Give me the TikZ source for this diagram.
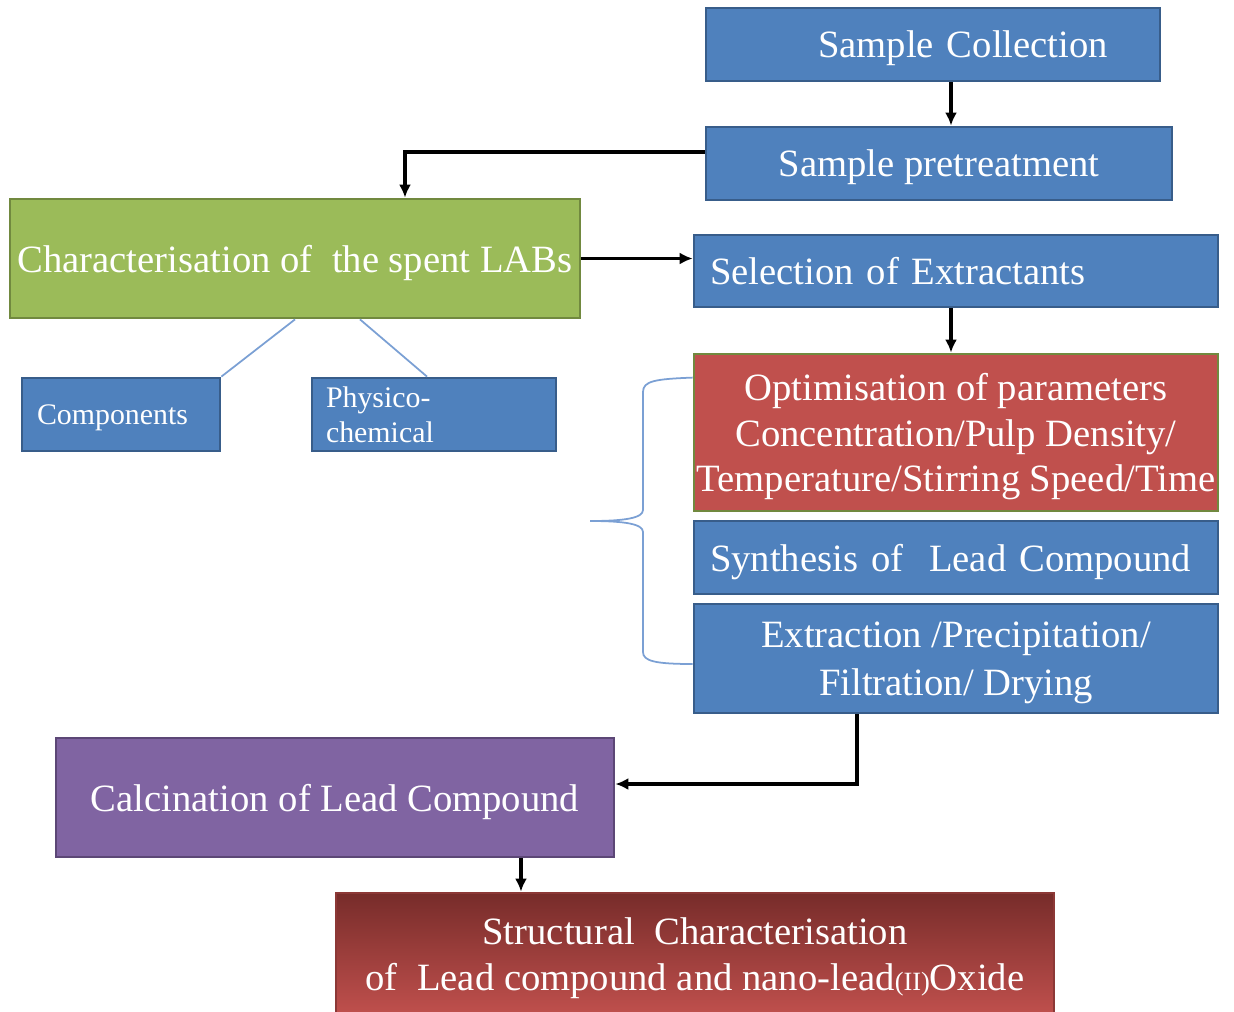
\documentclass[tikz,border=0pt]{standalone}
\usepackage{fontspec}
\setmainfont{Liberation Serif}
\usepackage{tikz}
\usetikzlibrary{arrows.meta,positioning}
\definecolor{bluefill}{HTML}{4F81BD}
\definecolor{blueline}{HTML}{385D8A}
\definecolor{greenfill}{HTML}{9BBB59}
\definecolor{greenline}{HTML}{71893F}
\definecolor{redfill}{HTML}{C0504D}
\definecolor{darkred}{HTML}{772C2A}
\definecolor{redline}{HTML}{8C3836}
\definecolor{purplefill}{HTML}{8064A2}
\definecolor{purpleline}{HTML}{5C4776}
\definecolor{linkblue}{HTML}{7BA0D4}

\begin{document}
\begin{tikzpicture}[x=0.02cm, y=-0.02cm]
    \tikzset{
      stepnode/.style={rectangle,draw=blueline,fill=bluefill,line width=1.6pt,text=white,inner ysep=0pt,inner xsep=0pt,text depth=0pt,font=\fontsize{22}{26}\selectfont},
      smallnode/.style={stepnode,font=\fontsize{17}{20}\selectfont},
      greennode/.style={stepnode,draw=greenline,fill=greenfill},
      rednode/.style={stepnode,draw=greenline,fill=redfill},
      purplenode/.style={stepnode,draw=purpleline,fill=purplefill},
      resultnode/.style={stepnode,draw=redline,top color=darkred,bottom color=redfill},
      arrow/.style={->,>={Latex[length=2.6mm,width=2.4mm]},line width=1.9pt},
      link/.style={draw=linkblue,line width=1pt}
    }
    \useasboundingbox (0,0) rectangle (1234,1011);

    \node[stepnode,minimum height=1.46cm,text width=7cm,inner xsep=1.04cm,align=right](coll) at (933,44.5){Sample Collection};
    \node[stepnode,minimum height=1.46cm,minimum width=9.32cm,align=center](pre) at (939,163.5){Sample pretreatment};
    \node[greennode,minimum height=2.38cm,minimum width=11.4cm,align=center](charac) at (295,258.5){Characterisation of~ the spent LABs};
    \node[stepnode,minimum height=1.44cm,text width=9.84cm,inner xsep=0.32cm,align=left](select) at (956,271){Selection of Extractants};
    \node[smallnode,minimum height=1.46cm,text width=3.36cm,inner xsep=0.3cm,align=left](comp) at (121,414.5){Components};
    \node[smallnode,minimum height=1.46cm,text width=4.32cm,inner xsep=0.28cm,align=left,text depth=](phys) at (434,414.5){Physico-\\chemical};
    \node[rednode,minimum height=3.14cm,minimum width=10.48cm,align=center](optim) at (956,432.5){Optimisation of parameters\\Concentration/Pulp Density/\\Temperature/Stirring Speed/Time};
    \node[stepnode,minimum height=1.46cm,text width=9.84cm,inner xsep=0.32cm,align=left](synth) at (956,557.5){Synthesis of~ Lead Compound};
    \node[stepnode,minimum height=2.18cm,minimum width=10.48cm,align=center,font=\fontsize{22}{27.5}\selectfont](extr) at (956,658.5){Extraction /Precipitation/\\Filtration/ Drying};
    \node[purplenode,minimum height=2.38cm,minimum width=11.16cm,align=center](calc) at (335,797.5){Calcination of Lead Compound};
    \node[resultnode,minimum height=2.44cm,minimum width=14.36cm,align=center](struct) at (695,954){Structural~ Characterisation\\of~ Lead compound and nano-lead{\fontsize{15}{15}\selectfont(II)}Oxide};
    \coordinate (bracetip) at (590,521);

    \draw[arrow]([xshift=0.36cm]coll.south) -- ([xshift=0.36cm]coll.south |- pre.north);
    \draw[arrow]([yshift=0.23cm]pre.west) -| ([xshift=2.2cm]charac.north);
    \draw[arrow](charac.east) -- (charac.east -| select.west);
    \draw[arrow]([xshift=-0.1cm]select.south) -- ([xshift=-0.1cm]optim.north);
    \draw[arrow]([xshift=-1.98cm]extr.south) |- ([yshift=0.27cm]calc.east);
    \draw[arrow]([xshift=3.72cm]calc.south) -- ([xshift=3.72cm]calc.south |- struct.north);
    \draw[link](charac.south) -- (comp.north east);
    \draw[link]([xshift=1.3cm]charac.south) -- ([xshift=-0.14cm]phys.north);
    \draw[link]([yshift=-0.5cm]optim.north west) .. controls (655,379) and (643,381) .. (643,392) -- (643,510) .. controls (643,518) and (625,521) .. (bracetip) .. controls (625,521) and (643,524) .. (643,532) -- (643,652) .. controls (643,661) and (655,664) .. ([yshift=-0.11cm]extr.west);

  \end{tikzpicture}
\end{document}
